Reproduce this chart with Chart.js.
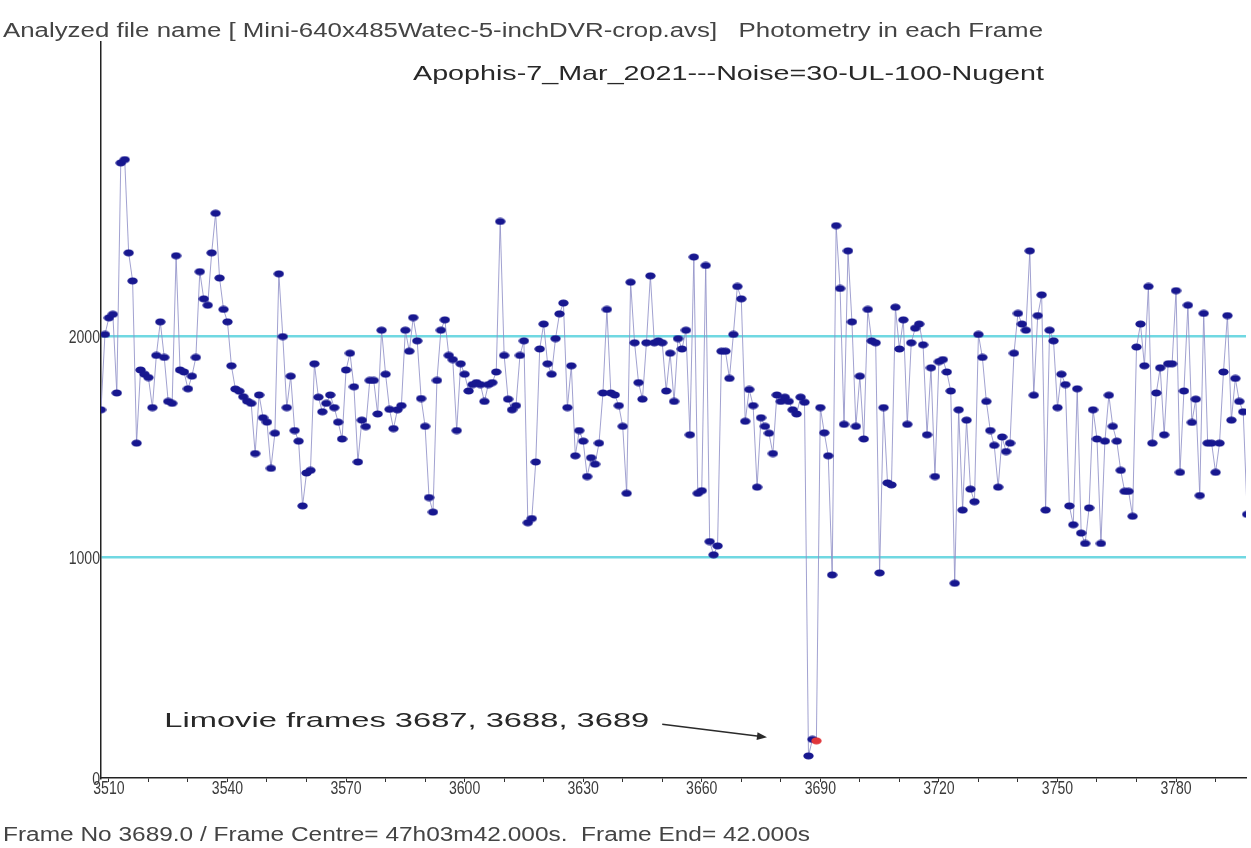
<!DOCTYPE html>
<html>
<head>
<meta charset="utf-8">
<title>Apophis-7_Mar_2021 photometry</title>
<script src="https://cdn.jsdelivr.net/npm/chart.js@4.4.1/dist/chart.umd.min.js"></script>
<style>
  html, body { margin: 0; padding: 0; background: #ffffff; }
  #wrap { width: 1251px; height: 848px; position: relative; }
</style>
</head>
<body>
<div id="wrap"><canvas id="lc"></canvas></div>
<script>
// ---- data -------------------------------------------------------------
// First frame of the photometry run; one value per frame after it.
const FIRST_FRAME = 3508;

// Measured brightness in each frame (ADU), frames 3508 .. 3798
const flux = [
  1666, 2007, 2082, 2098, 1742, 2783, 2798, 2376, 2249, 1515,
  1846, 1827, 1812, 1676, 1912, 2064, 1903, 1704, 1695, 2363,
  1846, 1837, 1761, 1818, 1903, 2291, 2168, 2139, 2376, 2555,
  2262, 2120, 2064, 1865, 1760, 1750, 1725, 1705, 1695, 1468,
  1733, 1630, 1610, 1401, 1560, 2281, 1997, 1676, 1818, 1572,
  1524, 1231, 1380, 1392, 1874, 1723, 1657, 1695, 1733, 1676,
  1610, 1534, 1846, 1922, 1770, 1430, 1619, 1590, 1799, 1799,
  1647, 2026, 1827, 1668, 1581, 1666, 1685, 2026, 1931, 2083,
  1978, 1717, 1591, 1269, 1203, 1799, 2026, 2073, 1912, 1893,
  1572, 1874, 1827, 1751, 1780, 1789, 1780, 1704, 1780, 1789,
  1837, 2518, 1912, 1714, 1666, 1685, 1912, 1978, 1155, 1174,
  1430, 1941, 2054, 1874, 1827, 1988, 2100, 2149, 1676, 1865,
  1458, 1572, 1524, 1364, 1449, 1420, 1515, 1742, 2120, 1742,
  1733, 1685, 1591, 1288, 2243, 1969, 1789, 1714, 1969, 2272,
  1969, 1978, 1969, 1751, 1922, 1704, 1988, 1941, 2026, 1553,
  2357, 1288, 1300, 2319, 1070, 1010, 1050, 1931, 1931, 1808,
  2007, 2224, 2168, 1614, 1758, 1685, 1316, 1630, 1591, 1560,
  1468, 1733, 1704, 1723, 1704, 1666, 1647, 1723, 1700,  100,
   175,  168, 1676, 1562, 1458,  919, 2499, 2215, 1600, 2385,
  2064, 1591, 1818, 1534, 2120, 1978, 1969,  928, 1676, 1335,
  1326, 2130, 1941, 2073, 1600, 1969, 2035, 2054, 1960, 1553,
  1856, 1364, 1884, 1893, 1837, 1751,  881, 1666, 1212, 1619,
  1307, 1250, 2007, 1903, 1704, 1572, 1505, 1316, 1543, 1477,
  1515, 1922, 2102, 2054, 2026, 2385, 1732, 2092, 2186, 1212,
  2026, 1978, 1676, 1827, 1780, 1231, 1146, 1761, 1108, 1061,
  1222, 1666, 1534, 1061, 1524, 1732, 1591, 1524, 1392, 1297,
  1297, 1184, 1950, 2054, 1865, 2224, 1515, 1742, 1856, 1553,
  1874, 1874, 2205, 1383, 1751, 2139, 1609, 1714, 1278, 2102,
  1515, 1515, 1383, 1515, 1837, 2092, 1619, 1808, 1704, 1657,
  1193
];

// Axis range and ticks
const X_MIN = 3508;
const X_MAX = 3797.7;
const Y_MAX = 3330;
const xTickFrames = [3510, 3520, 3530, 3540, 3550, 3560, 3570, 3580, 3590, 3600,
                     3610, 3620, 3630, 3640, 3650, 3660, 3670, 3680, 3690, 3700,
                     3710, 3720, 3730, 3740, 3750, 3760, 3770, 3780, 3790];
const xLabelFrames = [3510, 3540, 3570, 3600, 3630, 3660, 3690, 3720, 3750, 3780];
const yTickValues = [0, 1000, 2000];
const levelLines = [1000, 2000];

// Frame under the cursor (drawn in red) and the frames called out by the note
const cursorFrame = 3689;
const noteFrames = [3687, 3688, 3689];

// Texts
const headerText = 'Analyzed file name [ Mini-640x485Watec-5-inchDVR-crop.avs]   Photometry in each Frame';
const titleText = 'Apophis-7_Mar_2021---Noise=30-UL-100-Nugent';
const statusText = 'Frame No ' + cursorFrame.toFixed(1) + ' / Frame Centre= 47h03m42.000s.  Frame End= 42.000s';
const noteText = 'Limovie frames ' + noteFrames.join(', ');

// Where the note and its arrow sit, in frame / flux units
const noteAnchor = { frame: 3524, flux: 231 };
const arrowFrom = { frame: 3650, flux: 243 };
const arrowTo = { frame: 3676.5, flux: 184 };

// ---- drawing helpers ---------------------------------------------------
function makeDot(fill) {
  const c = document.createElement('canvas');
  c.width = 11; c.height = 8;
  const g = c.getContext('2d');
  g.fillStyle = fill;
  g.beginPath();
  g.ellipse(5.5, 4, 5.2, 3.5, 0, 0, Math.PI * 2);
  g.fill();
  return c;
}
const blueDot = makeDot('#17178f');
const redDot = makeDot('#e0353a');

// Draw text squeezed or stretched horizontally by a factor
function squeezeText(ctx, text, x, y, sx) {
  ctx.save();
  ctx.translate(x, y);
  ctx.scale(sx, 1);
  ctx.fillText(text, 0, 0);
  ctx.restore();
}
// Draw text squeezed or stretched horizontally to a given width
function fitText(ctx, text, x, y, width) {
  squeezeText(ctx, text, x, y, width / ctx.measureText(text).width);
}

const LABEL_FONT = '19px "Liberation Sans", Arial, sans-serif';
const LABEL_SQUEEZE = 0.74;

const overlay = {
  id: 'overlay',
  afterDraw(chart) {
    const ctx = chart.ctx;
    const xs = chart.scales.x, ys = chart.scales.y;
    ctx.save();
    ctx.textBaseline = 'alphabetic';

    // tick labels, narrow style, placed from the scales' own ticks
    ctx.fillStyle = '#3a3a3a';
    ctx.font = LABEL_FONT;
    ctx.textAlign = 'center';
    xs.ticks.forEach((t) => {
      if (!xLabelFrames.includes(t.value)) return;
      squeezeText(ctx, String(t.value), xs.getPixelForValue(t.value), chart.chartArea.bottom + 16, LABEL_SQUEEZE);
    });
    ctx.textAlign = 'right';
    ys.ticks.forEach((t) => {
      squeezeText(ctx, String(t.value), chart.chartArea.left - 1, ys.getPixelForValue(t.value) + 7, LABEL_SQUEEZE);
    });

    ctx.textAlign = 'left';
    ctx.fillStyle = '#444444';
    ctx.font = '20px "Liberation Sans", Arial, sans-serif';
    fitText(ctx, headerText, 3, 37, 1040);
    fitText(ctx, statusText, 3, 841, 807);

    ctx.fillStyle = '#282828';
    ctx.font = '21px "Liberation Sans", Arial, sans-serif';
    fitText(ctx, titleText, 413, 80, 631);

    const nx = xs.getPixelForValue(noteAnchor.frame);
    const ny = ys.getPixelForValue(noteAnchor.flux);
    fitText(ctx, noteText, nx, ny, 485);

    // arrow pointing at the dip
    const ax = xs.getPixelForValue(arrowFrom.frame), ay = ys.getPixelForValue(arrowFrom.flux);
    const bx = xs.getPixelForValue(arrowTo.frame), by = ys.getPixelForValue(arrowTo.flux);
    const ang = Math.atan2(by - ay, bx - ax);
    ctx.strokeStyle = '#2a2a2a';
    ctx.fillStyle = '#2a2a2a';
    ctx.lineWidth = 1.5;
    ctx.beginPath();
    ctx.moveTo(ax, ay);
    ctx.lineTo(bx - 6 * Math.cos(ang), by - 6 * Math.sin(ang));
    ctx.stroke();
    ctx.beginPath();
    ctx.moveTo(bx, by);
    ctx.lineTo(bx - 10 * Math.cos(ang) + 4 * Math.sin(ang), by - 10 * Math.sin(ang) - 4 * Math.cos(ang));
    ctx.lineTo(bx - 10 * Math.cos(ang) - 4 * Math.sin(ang), by - 10 * Math.sin(ang) + 4 * Math.cos(ang));
    ctx.closePath();
    ctx.fill();
    ctx.restore();
  }
};

new Chart(document.getElementById('lc'), {
  type: 'scatter',
  data: {
    datasets: [{
      data: flux.map((v, i) => ({ x: FIRST_FRAME + i, y: v })),
      showLine: true,
      borderColor: 'rgba(145,145,200,0.85)',
      borderWidth: 1,
      pointStyle: (c) => (c.raw && c.raw.x === cursorFrame ? redDot : blueDot),
      pointRadius: 4,
      pointHoverRadius: 4
    }]
  },
  options: {
    responsive: true,
    maintainAspectRatio: false,
    animation: false,
    layout: { padding: { top: 42, right: 0, bottom: 0, left: 0 } },
    plugins: {
      legend: { display: false },
      tooltip: { enabled: false },
      title: { display: false }
    },
    scales: {
      x: {
        type: 'linear',
        min: X_MIN,
        max: X_MAX,
        afterBuildTicks: (s) => { s.ticks = xTickFrames.map((v) => ({ value: v })); },
        afterFit: (s) => { s.height = 70; },
        ticks: { autoSkip: false, maxRotation: 0, padding: 0, callback: () => '' },
        grid: { drawOnChartArea: false, drawTicks: true, tickLength: 4, color: '#333333', lineWidth: 1 },
        border: { display: true, color: '#222222', width: 1.5 }
      },
      y: {
        min: 0,
        max: Y_MAX,
        afterBuildTicks: (s) => { s.ticks = yTickValues.map((v) => ({ value: v })); },
        afterFit: (s) => { s.width = 101; },
        ticks: { padding: 0, callback: () => '' },
        grid: {
          drawTicks: false,
          color: (c) => (levelLines.includes(c.tick.value) ? 'rgb(112,216,226)' : 'rgba(0,0,0,0)'),
          lineWidth: 2.5
        },
        border: { display: true, color: '#222222', width: 1.5 }
      }
    }
  },
  plugins: [overlay]
});
</script>
</body>
</html>
